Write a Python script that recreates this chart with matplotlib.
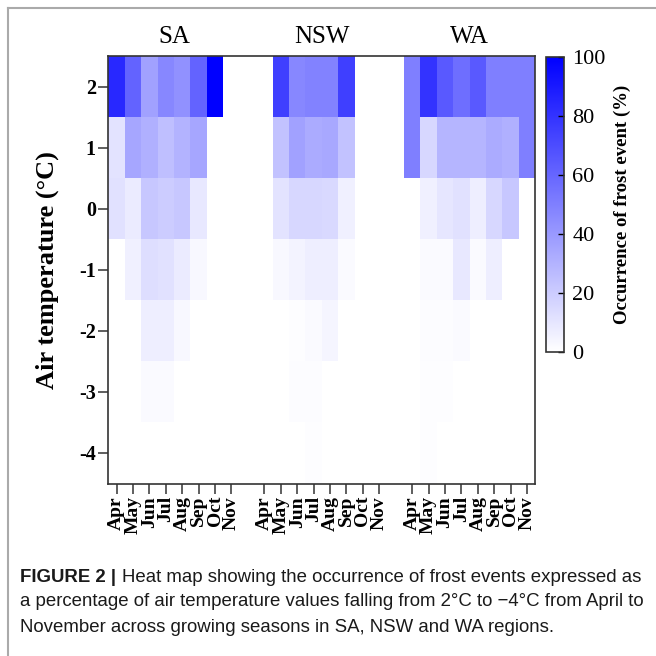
import numpy as np
import matplotlib
matplotlib.use('Agg')
import matplotlib.pyplot as plt
from matplotlib.colors import LinearSegmentedColormap
from matplotlib.lines import Line2D

regions = ['SA', 'NSW', 'WA']
months = ['Apr', 'May', 'Jun', 'Jul', 'Aug', 'Sep', 'Oct', 'Nov']
temps = [2, 1, 0, -1, -2, -3, -4]

# % occurrence, rows = temps (2 .. -4), cols = months (Apr .. Nov)
sa = [
    [84, 61, 37, 47, 43, 61, 100, 0],
    [11, 35, 31, 25, 30, 35, 0, 0],
    [12, 8, 22, 20, 22, 9, 0, 0],
    [0, 6, 13, 12, 8, 3, 0, 0],
    [0, 0, 7, 7, 3, 0, 0, 0],
    [0, 0, 2, 2, 0, 0, 0, 0],
    [0, 0, 0, 0, 0, 0, 0, 0],
]
nsw = [
    [0, 75, 47, 49, 49, 75, 0, 0],
    [0, 24, 37, 33, 34, 24, 0, 0],
    [0, 11, 16, 16, 15, 6, 0, 0],
    [0, 3, 5, 7, 7, 2, 0, 0],
    [0, 0, 1, 2, 4, 0, 0, 0],
    [0, 0, 1.5, 1.5, 0, 0, 0, 0],
    [0, 0, 0, 1, 0, 0, 0, 0],
]
wa = [
    [50, 80, 65, 57, 65, 50, 50, 50],
    [50, 16, 29, 29, 29, 33, 31, 50],
    [0, 6, 10, 12, 7, 16, 22, 0],
    [0, 2, 2, 9, 2, 7, 0, 0],
    [0, 1.5, 1.5, 2, 0, 0, 0, 0],
    [0, 1, 1, 0, 0, 0, 0, 0],
    [0, 1, 0, 0, 0, 0, 0, 0],
]

gap = np.full((len(temps), 1), np.nan)
mat = np.hstack([np.array(sa, float), gap, np.array(nsw, float), gap, np.array(wa, float)])
mat[mat == 0] = np.nan

cmap = LinearSegmentedColormap.from_list('wb', ['#ffffff', '#0000ff'])

plt.rcParams['font.family'] = ['Liberation Serif', 'DejaVu Serif']

fig = plt.figure(figsize=(6.56, 6.56), dpi=100)
ax = fig.add_axes([108.3 / 656, 1 - 483.5 / 656, 427 / 656, 427.5 / 656])

ncol = mat.shape[1]
xe = np.arange(ncol + 1) - 0.5
ye = np.array(temps[::-1] + [temps[0] + 1]) - 0.5
mesh = ax.pcolormesh(xe, ye, mat[::-1], cmap=cmap, vmin=0, vmax=100)
ax.set_xlim(-0.5, ncol - 0.5)
ax.set_ylim(temps[-1] - 0.5, temps[0] + 0.5)

xt, xl = [], []
for g in range(3):
    for i, m in enumerate(months):
        xt.append(g * 9 + i)
        xl.append(m)
ax.set_xticks(xt)
ax.set_xticklabels(xl, rotation=90, fontsize=14, fontweight='bold', va='top')
ax.set_yticks(temps)
ax.set_yticklabels([str(t) for t in temps], fontsize=14.5, fontweight='bold')
ax.tick_params(direction='out', length=7, width=1.1, color='#333333', pad=2)
ax.tick_params(axis='x', pad=2)
for s in ax.spines.values():
    s.set_color('#333333')
    s.set_linewidth(1.2)

ax.set_ylabel('Air temperature (°C)', fontsize=19, fontweight='bold', labelpad=14)

for g, r in enumerate(regions):
    ax.text(g * 9 + 3.5, 1.045, r, transform=ax.get_xaxis_transform(),
            ha='center', va='center', fontsize=18)

cax = fig.add_axes([546 / 656, 1 - 352 / 656, 18 / 656, 295 / 656])
cb = fig.colorbar(mesh, cax=cax, ticks=[0, 20, 40, 60, 80, 100])
cb.outline.set_linewidth(1.2)
cb.outline.set_edgecolor('#333333')
cax.tick_params(direction='in', length=4, width=1, labelsize=16, pad=6)
cb.set_label('Occurrence of frost event (%)', fontsize=13.5, fontweight='bold', labelpad=6)

# page frame
fig.add_artist(Line2D([8 / 656, 1], [1 - 8 / 656, 1 - 8 / 656], color='#aaaaaa', lw=1.5))
fig.add_artist(Line2D([8 / 656, 8 / 656], [0, 1 - 8 / 656], color='#aaaaaa', lw=1.5))

cap_font = ['Liberation Sans', 'DejaVu Sans']
cap_size = 13.4
cap_color = '#1a1a1a'
head = fig.text(20 / 656, 1 - 577 / 656, 'FIGURE 2 |', fontsize=cap_size, fontweight='bold',
                family=cap_font, va='center', color=cap_color)
renderer = fig.canvas.get_renderer()
bb = head.get_window_extent(renderer=renderer)
x_after = (bb.x1 + 6) / fig.bbox.width
fig.text(x_after, 1 - 577 / 656, 'Heat map showing the occurrence of frost events expressed as',
         fontsize=cap_size, family=cap_font, va='center', color=cap_color)
fig.text(20 / 656, 1 - 602 / 656,
         'a percentage of air temperature values falling from 2°C to \u22124°C from April to',
         fontsize=cap_size, family=cap_font, va='center', color=cap_color)
fig.text(20 / 656, 1 - 627 / 656,
         'November across growing seasons in SA, NSW and WA regions.',
         fontsize=cap_size, family=cap_font, va='center', color=cap_color)

fig.savefig('out.png', dpi=100)
